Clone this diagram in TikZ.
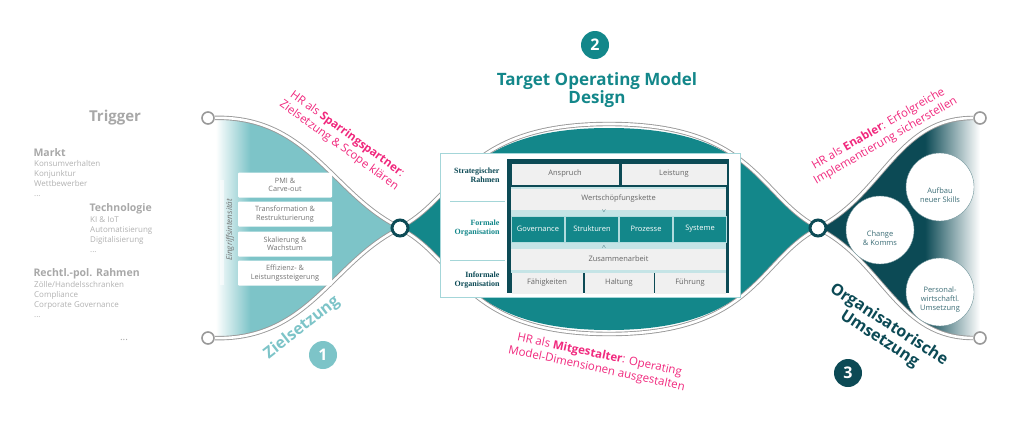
\documentclass[tikz,border=0pt]{standalone}
\usepackage{fontspec}
\setmainfont{Open Sans}
\newfontfamily\serifbold{Liberation Serif}
\usetikzlibrary{positioning}
\definecolor{tealL}{HTML}{7DC4C8}
\definecolor{tealM}{HTML}{13878A}
\definecolor{tealD}{HTML}{0C4A55}
\definecolor{hrpink}{HTML}{F0287D}
\definecolor{greyT}{HTML}{A8A8A8}
\definecolor{cellgray}{HTML}{F0F0F0}
\pgfdeclarehorizontalshading{leftfade}{100bp}{color(0bp)=(white); color(27bp)=(white); color(36bp)=(tealL); color(100bp)=(tealL)}
\pgfdeclarehorizontalshading{rightfade}{100bp}{color(0bp)=(tealD); color(58bp)=(tealD); color(75bp)=(white); color(100bp)=(white)}

\begin{document}
\begin{tikzpicture}[x=1pt,y=-1pt]
    \tikzstyle{road}=[draw=gray!80, double=white, double distance=2.6pt, line width=0.9pt]
    \tikzstyle{endpoint}=[circle, fill=white, draw=gray!80, line width=1.6pt, minimum size=12pt, inner sep=0pt]
    \tikzstyle{junction}=[circle, fill=white, draw=tealD, line width=3pt, minimum size=16pt, inner sep=0pt]
    \tikzstyle{phase num}=[circle, text=white, font=\bfseries\fontsize{16}{16}\selectfont, minimum size=28pt, inner sep=0pt]
    \tikzstyle{trigger head}=[anchor=west, text=greyT, font=\bfseries\fontsize{10.5}{11}\selectfont]
    \tikzstyle{trigger item}=[anchor=north west, text=greyT!90, font=\fontsize{8}{10}\selectfont, align=left, inner sep=0pt]
    \tikzstyle{lever}=[fill=white, rounded corners=1pt, minimum width=94pt, minimum height=25pt, inner sep=1pt, align=center, text=gray!90!black, font=\fontsize{7.3}{8.5}\selectfont]
    \tikzstyle{cell}=[fill=cellgray, minimum height=21pt, inner sep=0pt, text=gray!80!black, font=\fontsize{7.5}{8}\selectfont]
    \tikzstyle{dim}=[fill=tealM, draw=tealL!60, line width=1pt, minimum height=26pt, inner sep=0pt, text=white, font=\fontsize{7.5}{8}\selectfont]
    \tikzstyle{rowlabel}=[align=right, anchor=east, font=\serifbold\bfseries\fontsize{8}{9}\selectfont]
    \tikzstyle{hrtext}=[text=hrpink, align=center, font=\fontsize{11.5}{14}\selectfont]
    \tikzstyle{skill}=[circle, fill=white, draw=tealD!60, minimum size=68pt, inner sep=0pt, align=center, text=tealD!80, font=\fontsize{7.5}{9}\selectfont]

    \useasboundingbox (0,0) rectangle (1024,423);

    % Draw the three filled phases
    \path[shading=leftfade] (208,118) .. controls (305,116) and (330,188) .. (400,228)
        .. controls (330,268) and (305,340) .. (208,338) -- cycle;
    \path[fill=tealM] (400,228) .. controls (460,190) and (470,128) .. (609,128)
        .. controls (748,128) and (758,190) .. (818,228)
        .. controls (758,266) and (748,330) .. (609,330)
        .. controls (470,330) and (460,266) .. (400,228) -- cycle;
    \path[shading=rightfade] (818,228) .. controls (885,188) and (900,118) .. (980,118)
        -- (980,338) .. controls (900,338) and (885,268) .. (818,228) -- cycle;

    % Draw the end points and junctions
    \node[endpoint] (E-1) at (208,118) {};
    \node[endpoint] (E-2) at (208,338) {};
    \node[endpoint] (E-3) at (980,118) {};
    \node[endpoint] (E-4) at (980,338) {};
    \node[junction] (J-1) at (400,228) {};
    \node[junction] (J-2) at (818,228) {};

    % Draw the roads between them
    \draw[road] (E-1) .. controls (305,116) and (330,188) .. (J-1);
    \draw[road] (E-2) .. controls (305,340) and (330,268) .. (J-1);
    \draw[road] (J-1) .. controls (460,190) and (470,124) .. (609,124) .. controls (748,124) and (758,190) .. (J-2);
    \draw[road] (J-1) .. controls (460,266) and (470,334) .. (609,334) .. controls (748,334) and (758,266) .. (J-2);
    \draw[road] (J-2) .. controls (885,188) and (900,118) .. (E-3);
    \draw[road] (J-2) .. controls (885,268) and (900,338) .. (E-4);

    % Trigger column
    \node[text=greyT, font=\bfseries\fontsize{15}{16}\selectfont] (trigger) at (115,118) {Trigger};
    \node[trigger head] (markt) at (30,153) {Markt};
    \node[trigger item] (markt-i) at (34,160) {Konsumverhalten\\Konjunktur\\Wettbewerber\\...};
    \node[trigger head] (tech) at (86,209) {Technologie};
    \node[trigger item] (tech-i) at (90,216) {KI \& IoT\\Automatisierung\\Digitalisierung\\...};
    \node[trigger head] (recht) at (30,274) {Rechtl.-pol. Rahmen};
    \node[trigger item] (recht-i) at (34,281) {Zölle/Handelsschranken\\Compliance\\Corporate Governance\\...};
    \node[text=greyT] (dots) at (124,340) {...};

    % Draw the levers of phase 1
    \foreach \name / \y / \txt in {1/185/{PMI \&\\Carve-out}, 2/214/{Transformation \&\\Restrukturierung}, 3/244/{Skalierung \&\\Wachstum}, 4/273/{Effizienz- \&\\Leistungssteigerung}}
        \node[lever] (L-\name) at (285,\y) {\txt};
    \fill[white, opacity=0.6] (220,180) -- (224,180) -- (224,285) -- (220,285) -- cycle;
    \node[rotate=90, text=gray!90!black, font=\itshape\fontsize{8}{9}\selectfont] (intens) at (230,230) {Eingriffsintensität};

    % Draw the operating model table
    \node[fill=white, draw=tealL!70, line width=1pt, minimum width=300pt, minimum height=144pt] (tom) at (590,225) {};
    \node[fill=tealD, minimum width=222pt, minimum height=134pt, anchor=north west] (frame) at (507,159) {};
    \fill[tealL!45] (511,187) rectangle (726,273);
    \node[cell, minimum width=107pt] (anspruch) at (565,174) {Anspruch};
    \node[cell, minimum width=105pt] (leistung) at (674,174) {Leistung};
    \node[cell, minimum width=215pt] (wsk) at (618.5,199) {Wertschöpfungskette};
    \node[font=\tiny, text=tealD] (down) at (604,211) {$\vee$};
    \foreach \name / \x / \txt in {1/538/Governance, 2/592/Strukturen, 3/646/Prozesse, 4/700/Systeme}
        \node[dim, minimum width=53pt] (D-\name) at (\x,229) {\txt};
    \node[font=\tiny, text=tealD] (up) at (604,247) {$\wedge$};
    \node[cell, minimum width=215pt] (zus) at (618.5,259) {Zusammenarbeit};
    \node[cell, minimum width=71pt] (faeh) at (547,283) {Fähigkeiten};
    \node[cell, minimum width=69pt] (haltung) at (619,283) {Haltung};
    \node[cell, minimum width=71pt] (fuehrung) at (690,283) {Führung};
    \node[rowlabel, text=tealD] (strat) at (503,175) {Strategischer\\Rahmen};
    \node[rowlabel, text=tealM] (formal) at (503,228) {Formale\\Organisation};
    \node[rowlabel, text=tealD] (informal) at (503,280) {Informale\\Organisation};
    \draw[tealL!70] (450,201) -- (505,201);
    \draw[tealL!70] (450,260) -- (505,260);

    % Draw the measures of phase 3
    \node[skill] (S-1) at (940,187) {\\[14pt]Aufbau\\neuer Skills};
    \node[skill] (S-2) at (880,230) {\\[14pt]Change\\\& Komms};
    \node[skill] (S-3) at (940,292) {\\[12pt]Personal-\\wirtschaftl.\\Umsetzung};

    % Phase titles and numbers
    \node[phase num, fill=tealM] (N-2) at (595,45) {2};
    \node[text=tealM, align=center, font=\bfseries\fontsize{17}{18}\selectfont] (tomd) at (597,90) {Target Operating Model\\Design};
    \node[phase num, fill=tealL] (N-1) at (323,355) {1};
    \node[rotate=38, text=tealL, font=\bfseries\fontsize{16}{17}\selectfont] (ziel) at (302,328) {Zielsetzung};
    \node[phase num, fill=tealD] (N-3) at (848,373) {3};
    \node[rotate=-33, text=tealD, align=center, font=\bfseries\fontsize{16}{17}\selectfont] (umsetz) at (884,332) {Organisatorische\\Umsetzung};

    % HR roles
    \node[hrtext, rotate=-36] (hr-1) at (343,140) {HR als \textbf{Sparringspartner}:\\Zielsetzung \& Scope klären};
    \node[hrtext, rotate=-12] (hr-2) at (598,362) {HR als \textbf{Mitgestalter}: Operating\\Model-Dimensionen ausgestalten};
    \node[hrtext, rotate=30] (hr-3) at (882,135) {HR als \textbf{Enabler}: Erfolgreiche\\Implementierung sicherstellen};
\end{tikzpicture}
\end{document}
